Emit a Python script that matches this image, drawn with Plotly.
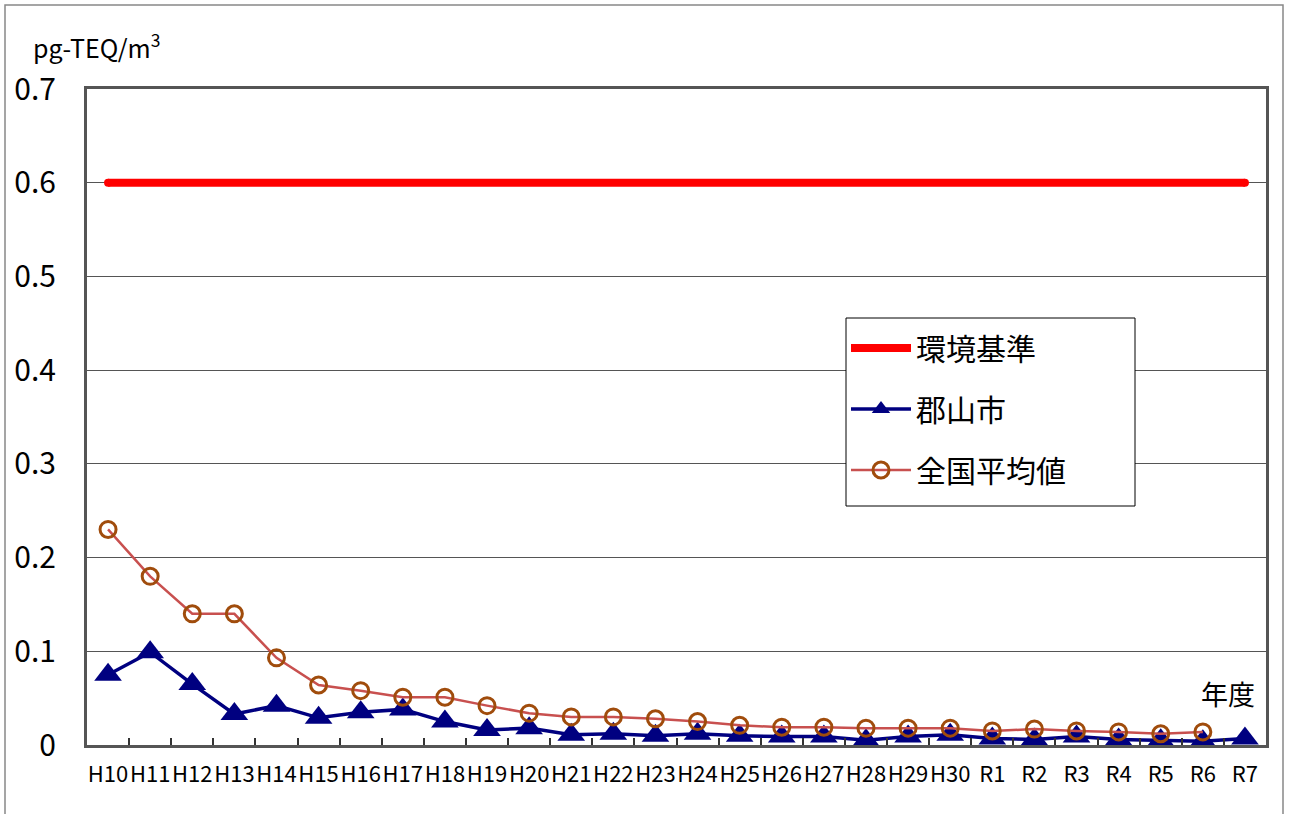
import plotly.graph_objects as go

# Fiscal years (Heisei H10-H30, Reiwa R1-R7)
years = ["H10", "H11", "H12", "H13", "H14", "H15", "H16", "H17", "H18", "H19",
         "H20", "H21", "H22", "H23", "H24", "H25", "H26", "H27", "H28", "H29",
         "H30", "R1", "R2", "R3", "R4", "R5", "R6", "R7"]

# Environmental quality standard (pg-TEQ/m3)
standard = [0.6, 0.6, 0.6, 0.6, 0.6, 0.6, 0.6, 0.6, 0.6, 0.6,
            0.6, 0.6, 0.6, 0.6, 0.6, 0.6, 0.6, 0.6, 0.6, 0.6,
            0.6, 0.6, 0.6, 0.6, 0.6, 0.6, 0.6, 0.6]

# Koriyama City annual mean
koriyama = [0.075, 0.099, 0.065, 0.033, 0.042, 0.029, 0.035, 0.038, 0.025, 0.016,
            0.018, 0.011, 0.012, 0.010, 0.012, 0.010, 0.009, 0.009, 0.005, 0.009,
            0.011, 0.007, 0.006, 0.009, 0.006, 0.005, 0.004, 0.007]

# National average (not yet published for R7)
national = [0.23, 0.18, 0.14, 0.14, 0.093, 0.064, 0.058, 0.051, 0.051, 0.042,
            0.034, 0.030, 0.030, 0.028, 0.025, 0.021, 0.019, 0.019, 0.018, 0.018,
            0.018, 0.015, 0.017, 0.015, 0.014, 0.012, 0.014, None]

FONT = "Noto Sans CJK JP"

W, H = 1289, 814
L, R, T, B = 87, 23, 89, 69
PW, PH = W - L - R, H - T - B


def px(x):
    return (x - L) / PW


def py(y):
    return (H - B - y) / PH


fig = go.Figure()

fig.add_trace(go.Scatter(
    x=years, y=standard, name="環境基準", mode="lines",
    line=dict(color="#FF0000", width=8), legendgroup="a",
))
# rounded line ends
fig.add_trace(go.Scatter(
    x=[years[0], years[-1]], y=[standard[0], standard[-1]], mode="markers",
    marker=dict(color="#FF0000", size=8, symbol="circle"),
    showlegend=False, hoverinfo="skip",
))
fig.add_trace(go.Scatter(
    x=years, y=koriyama, name="郡山市", mode="lines+markers",
    line=dict(color="#000080", width=3.5),
    marker=dict(symbol="triangle-up", size=24, color="#000080"),
    legendgroup="b",
))
fig.add_trace(go.Scatter(
    x=years, y=national, name="全国平均値", mode="lines+markers",
    line=dict(color="#C8504F", width=2.5),
    marker=dict(symbol="circle-open", size=16, color="#A04C0C",
                line=dict(width=3, color="#A04C0C")),
    legendgroup="c",
))

fig.update_layout(
    width=W, height=H,
    margin=dict(l=L, r=R, t=T, b=B),
    paper_bgcolor="white", plot_bgcolor="white",
    font=dict(family=FONT, color="#000000"),
    legend=dict(
        x=px(846), y=py(322), xanchor="left", yanchor="top",
        bgcolor="rgba(0,0,0,0)", borderwidth=0,
        font=dict(size=30, family=FONT), itemwidth=60,
        tracegroupgap=19, traceorder="grouped",
    ),
    showlegend=True,
)

fig.update_xaxes(
    type="category", categoryorder="array", categoryarray=years,
    range=[-0.5, len(years) - 0.5], autorange=False,
    showgrid=False, ticks="inside", tickson="boundaries", ticklen=7,
    tickwidth=1.5, tickcolor="#333333", tickangle=0,
    showline=True, linecolor="#555555", linewidth=3, mirror=True,
    tickfont=dict(size=22, family=FONT),
    ticklabelstandoff=8,
)
fig.update_yaxes(
    range=[0, 0.7], dtick=0.1, tick0=0,
    showgrid=True, gridcolor="#555555", gridwidth=1,
    zeroline=False, ticks="",
    showline=True, linecolor="#555555", linewidth=3, mirror=True,
    tickfont=dict(size=30, family=FONT),
    ticklabelstandoff=22,
)

# unit label
fig.add_annotation(
    text="pg-TEQ/m<sup>3</sup>", xref="paper", yref="paper",
    x=px(31), y=py(46), xanchor="left", yanchor="middle",
    showarrow=False, font=dict(size=25, family=FONT),
)
# x-axis unit
fig.add_annotation(
    text="年度", xref="paper", yref="paper",
    x=px(1257), y=py(693), xanchor="right", yanchor="middle",
    showarrow=False, font=dict(size=27, family=FONT),
)
# legend frame
fig.add_shape(
    type="rect", xref="paper", yref="paper",
    x0=px(846), x1=px(1135), y0=py(506), y1=py(318),
    line=dict(color="#000000", width=1), fillcolor="white", layer="above",
)
# outer chart frame
fig.add_shape(
    type="rect", xref="paper", yref="paper",
    x0=px(5), x1=px(1283), y0=py(830), y1=py(5),
    line=dict(color="#888888", width=1.5), layer="below",
)

fig.write_html("out.html")
